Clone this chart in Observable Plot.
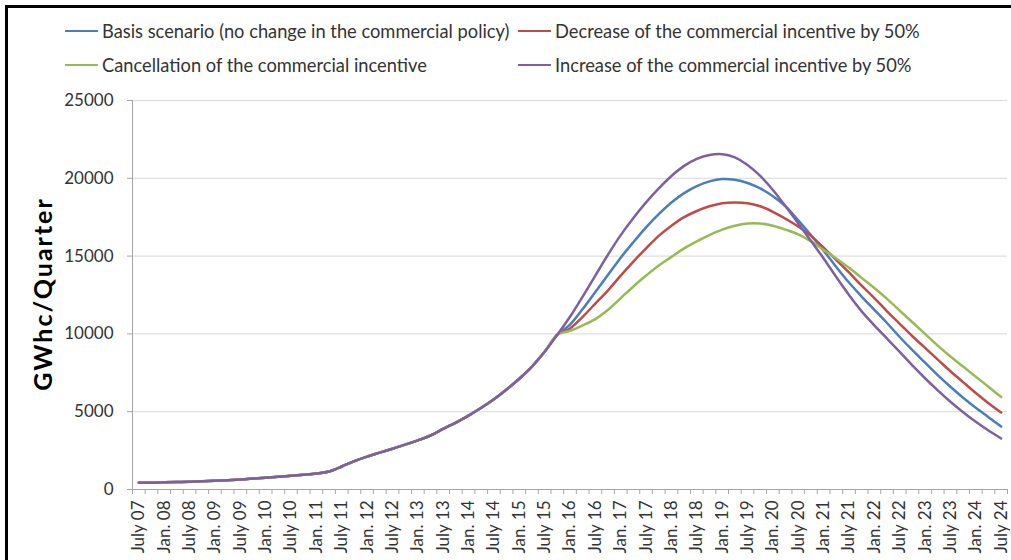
<!DOCTYPE html>
<html>
<head>
<meta charset="utf-8">
<script src="https://cdn.jsdelivr.net/npm/d3@7"></script>
<script src="https://cdn.jsdelivr.net/npm/@observablehq/plot@0.6"></script>
<style>
  html, body { margin: 0; padding: 0; background: #fff; overflow: hidden; width: 1011px; height: 560px; }
  #frame { position: absolute; left: 5px; top: 5px; width: 1200px; height: 800px; border: 3px solid #000; box-sizing: border-box; }
  #legend { position: absolute; left: 65px; top: 14px; display: grid; grid-template-columns: 453px auto; grid-auto-rows: 34px; font-family: Lato, sans-serif; font-size: 18.3px; color: #333; }
  .item { display: flex; align-items: center; white-space: nowrap; }
  .sw { width: 33px; height: 0; border-top: 2.5px solid; margin-right: 4px; }
  #chart { position: absolute; left: 0; top: 80px; }
  #ytitle { position: absolute; left: 42px; top: 294px; transform: translate(-50%, -50%) rotate(-90deg); font-family: Lato, sans-serif; font-weight: bold; font-size: 25px; letter-spacing: 2px; color: #000; white-space: nowrap; }
</style>
</head>
<body>
<div id="frame"></div>
<div id="legend"></div>
<div id="chart"></div>
<div id="ytitle"></div>
<script>
// ---- data ----
const quarters = ["July 07","Oct. 07","Jan. 08","Apr. 08","July 08","Oct. 08","Jan. 09","Apr. 09","July 09","Oct. 09",
  "Jan. 10","Apr. 10","July 10","Oct. 10","Jan. 11","Apr. 11","July 11","Oct. 11","Jan. 12","Apr. 12",
  "July 12","Oct. 12","Jan. 13","Apr. 13","July 13","Oct. 13","Jan. 14","Apr. 14","July 14","Oct. 14",
  "Jan. 15","Apr. 15","July 15","Oct. 15","Jan. 16","Apr. 16","July 16","Oct. 16","Jan. 17","Apr. 17",
  "July 17","Oct. 17","Jan. 18","Apr. 18","July 18","Oct. 18","Jan. 19","Apr. 19","July 19","Oct. 19",
  "Jan. 20","Apr. 20","July 20","Oct. 20","Jan. 21","Apr. 21","July 21","Oct. 21","Jan. 22","Apr. 22",
  "July 22","Oct. 22","Jan. 23","Apr. 23","July 23","Oct. 23","Jan. 24","Apr. 24","July 24"];

const basis = [430,440,460,480,500,530,560,600,650,700,760,820,880,950,1030,1160,1480,1820,2110,2370,
  2620,2880,3160,3470,3900,4300,4750,5250,5800,6430,7120,7900,8850,9950,
  10600,11600,12700,13800,14900,15900,16850,17700,18450,19050,19500,19800,19950,19900,19700,19350,
  18850,18200,17300,16350,15350,14300,13300,12400,11550,10700,9800,8950,8150,7350,6600,5900,5250,4650,4050];

const decrease = [430,440,460,480,500,530,560,600,650,700,760,820,880,950,1030,1160,1480,1820,2110,2370,
  2620,2880,3160,3470,3900,4300,4750,5250,5800,6430,7120,7900,8850,9950,
  10350,11100,11950,12800,13750,14650,15500,16300,16950,17500,17900,18200,18400,18450,18400,18200,
  17850,17400,16900,16300,15550,14750,13950,13100,12300,11450,10650,9850,9100,8350,7600,6900,6200,5550,4950];

const cancellation = [430,440,460,480,500,530,560,600,650,700,760,820,880,950,1030,1160,1480,1820,2110,2370,
  2620,2880,3160,3470,3900,4300,4750,5250,5800,6430,7120,7900,8850,9950,
  10200,10550,10950,11550,12300,13050,13750,14400,14950,15500,15950,16350,16700,16950,17100,17100,
  16950,16700,16400,15950,15400,14850,14250,13600,12950,12250,11500,10750,10000,9250,8550,7900,7250,6600,5950];

const increase = [430,440,460,480,500,530,560,600,650,700,760,820,880,950,1030,1160,1480,1820,2110,2370,
  2620,2880,3160,3470,3900,4300,4750,5250,5800,6430,7120,7900,8850,9950,
  11100,12400,13750,15100,16350,17450,18450,19350,20150,20800,21250,21500,21550,21350,20850,20150,
  19250,18200,17100,15980,14850,13650,12500,11450,10550,9700,8850,7980,7150,6370,5640,4970,4350,3790,3280];

const seriesNames = [
  "Basis scenario (no change in the commercial policy)",
  "Decrease of the commercial incentive by 50%",
  "Cancellation of the commercial incentive",
  "Increase of the commercial incentive by 50%"
];
const seriesValues = [basis, decrease, cancellation, increase];
const seriesColors = ["#4a7ebb", "#be4b48", "#98b954", "#7d60a0"];
const yTicks = [0, 5000, 10000, 15000, 20000, 25000];
const yTitle = "GWhc/Quarter";

// ---- legend ----
const legend = document.getElementById("legend");
seriesNames.forEach((name, k) => {
  const item = document.createElement("div");
  item.className = "item";
  const sw = document.createElement("span");
  sw.className = "sw";
  sw.style.borderTopColor = seriesColors[k];
  const tx = document.createElement("span");
  tx.textContent = name;
  item.appendChild(sw);
  item.appendChild(tx);
  legend.appendChild(item);
});
document.getElementById("ytitle").textContent = yTitle;

// ---- chart ----
const rows = [];
seriesValues.forEach((vals, k) => vals.forEach((v, i) => rows.push({i, v, s: seriesNames[k]})));

const lineMarks = seriesNames.map((name, k) =>
  Plot.line(rows.filter(d => d.s === name), {x: "i", y: "v", stroke: seriesColors[k], strokeWidth: 2.5, curve: "catmull-rom"})
);

const chart = Plot.plot({
  width: 1011,
  height: 479,
  marginLeft: 132,
  marginRight: 4,
  marginTop: 20,
  marginBottom: 70,
  x: {domain: [-0.5, quarters.length - 0.5], axis: null},
  y: {domain: [yTicks[0], yTicks[yTicks.length - 1]], axis: null},
  style: {fontFamily: "Lato, sans-serif", fontSize: "17px", color: "#333", background: "transparent"},
  marks: [
    Plot.gridY(yTicks.slice(1), {stroke: "#d9d9d9", strokeOpacity: 1}),
    Plot.ruleX([-0.5], {stroke: "#a6a6a6"}),
    Plot.ruleY([0], {stroke: "#a6a6a6"}),
    Plot.axisY(yTicks, {label: null, tickSize: 5, tickPadding: 14, stroke: "#a6a6a6", fill: "#333", tickFormat: d => String(d), fontSize: 17}),
    Plot.axisX(d3.range(-0.5, quarters.length, 1), {label: null, tickSize: 5, stroke: "#a6a6a6", tickFormat: () => ""}),
    Plot.axisX(d3.range(0, quarters.length, 2), {label: null, tickSize: 0, tickPadding: 11, tickRotate: -90, tickFormat: i => quarters[i], fill: "#333", fontSize: 17}),
    ...lineMarks
  ]
});
document.getElementById("chart").appendChild(chart);
</script>
</body>
</html>
